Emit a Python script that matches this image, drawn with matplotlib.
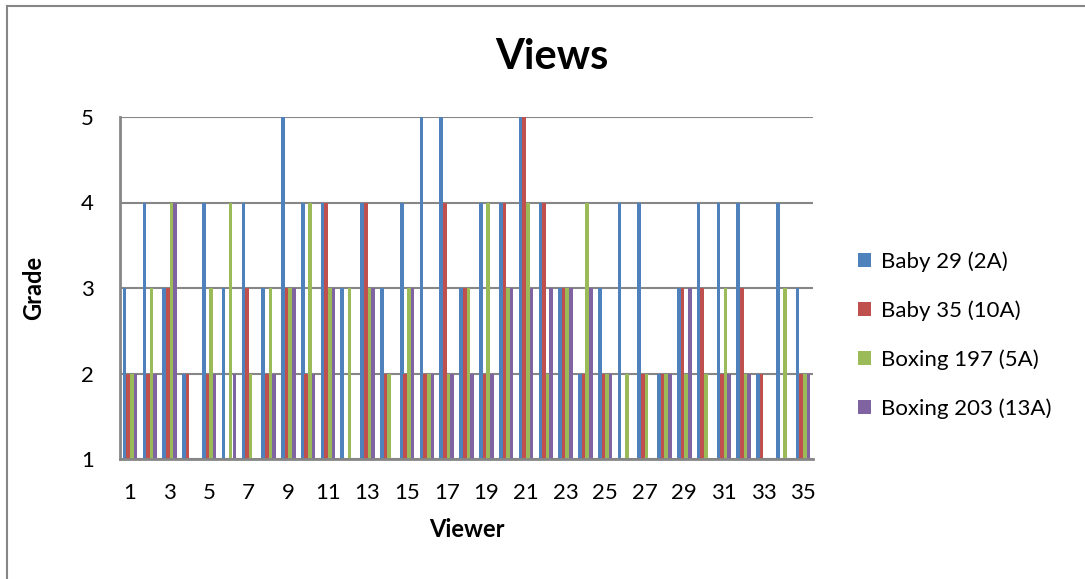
import matplotlib
matplotlib.use("Agg")
import matplotlib.pyplot as plt
from matplotlib.patches import Patch
from matplotlib.lines import Line2D
import numpy as np

plt.rcParams['font.family'] = ['Lato', 'DejaVu Sans']

viewers = list(range(1, 36))
series_names = ["Baby 29 (2A)", "Baby 35 (10A)", "Boxing 197 (5A)", "Boxing 203 (13A)"]
colors = ["#4F81BD", "#C0504D", "#9BBB59", "#8064A2"]

baby_29 = [3, 4, 3, 2, 4, 3, 4, 3, 5, 4, 4, 3, 4, 3, 4, 5, 5, 3, 4, 4,
           5, 4, 3, 2, 3, 4, 4, 2, 3, 4, 4, 4, 2, 4, 3]
baby_35 = [2, 2, 3, 2, 2, 1, 3, 2, 3, 2, 4, 1, 4, 2, 2, 2, 4, 3, 2, 4,
           5, 4, 3, 2, 2, 1, 2, 2, 3, 3, 2, 3, 2, 1, 2]
boxing_197 = [2, 3, 4, 1, 3, 4, 2, 3, 3, 4, 3, 3, 3, 2, 3, 2, 2, 3, 4, 3,
              4, 2, 3, 4, 2, 2, 2, 2, 2, 2, 3, 2, 1, 3, 2]
boxing_203 = [2, 2, 4, 1, 2, 2, 1, 2, 3, 2, 3, 1, 3, 1, 3, 2, 2, 2, 2, 3,
              3, 3, 3, 3, 2, 1, 1, 2, 3, 1, 2, 2, 1, 1, 2]
series = [baby_29, baby_35, boxing_197, boxing_203]

y_ticks = [1, 2, 3, 4, 5]
x_tick_labels = [str(v) for v in viewers if v % 2 == 1]

W, H = 1085, 579
fig = plt.figure(figsize=(W / 100, H / 100), dpi=100)
fig.patch.set_facecolor("white")

# chart frame (top and left edges)
fig.add_artist(Line2D([7 / W, 7 / W], [0, 1 - 6 / H], transform=fig.transFigure,
                      color="#868686", lw=1.5))
fig.add_artist(Line2D([7 / W, 1], [1 - 6 / H, 1 - 6 / H], transform=fig.transFigure,
                      color="#868686", lw=1.5))

left, right, top, bottom = 120, 813, 117, 459
ax = fig.add_axes([left / W, 1 - bottom / H, (right - left) / W, (bottom - top) / H])

x = np.arange(len(viewers))
bw = 1 / 5.5
for i, (vals, c) in enumerate(zip(series, colors)):
    vals = np.asarray(vals, dtype=float)
    ax.bar(x + (i - 1.5) * bw, vals - 1, bottom=1, width=bw, color=c,
           edgecolor="none", zorder=3)

ax.set_xlim(-0.5, len(viewers) - 0.5)
ax.set_ylim(1, 5)
ax.set_yticks(y_ticks)
ax.set_yticklabels([str(v) for v in y_ticks])
ax.set_xticks(x[::2])
ax.set_xticklabels(x_tick_labels)
ax.tick_params(axis="both", length=0, labelsize=16, colors="black")
ax.tick_params(axis="y", pad=19)
ax.tick_params(axis="x", pad=17)

ax.grid(axis="y", color="#868686", lw=1.5, zorder=1)
for side in ["top", "right"]:
    ax.spines[side].set_visible(False)
for side in ["left", "bottom"]:
    ax.spines[side].set_color("#868686")
    ax.spines[side].set_linewidth(2)
    ax.spines[side].set_zorder(4)

ax.set_xlabel("Viewer", fontsize=17, fontweight="bold", labelpad=11)
ax.set_ylabel("Grade", fontsize=17, fontweight="bold", labelpad=26)

fig.text(552 / W, 1 - 57 / H, "Views", ha="center", va="center",
         fontsize=30, fontweight="bold")

handles = [Patch(facecolor=c, edgecolor="none") for c in colors]
fig.legend(handles, series_names, loc="center left",
           bbox_to_anchor=(849 / W, 1 - 335 / H), frameon=False,
           fontsize=16, handlelength=0.6, handleheight=0.6,
           handletextpad=0.45, labelspacing=1.27, borderaxespad=0)

fig.savefig("out.png", dpi=100, facecolor="white")
